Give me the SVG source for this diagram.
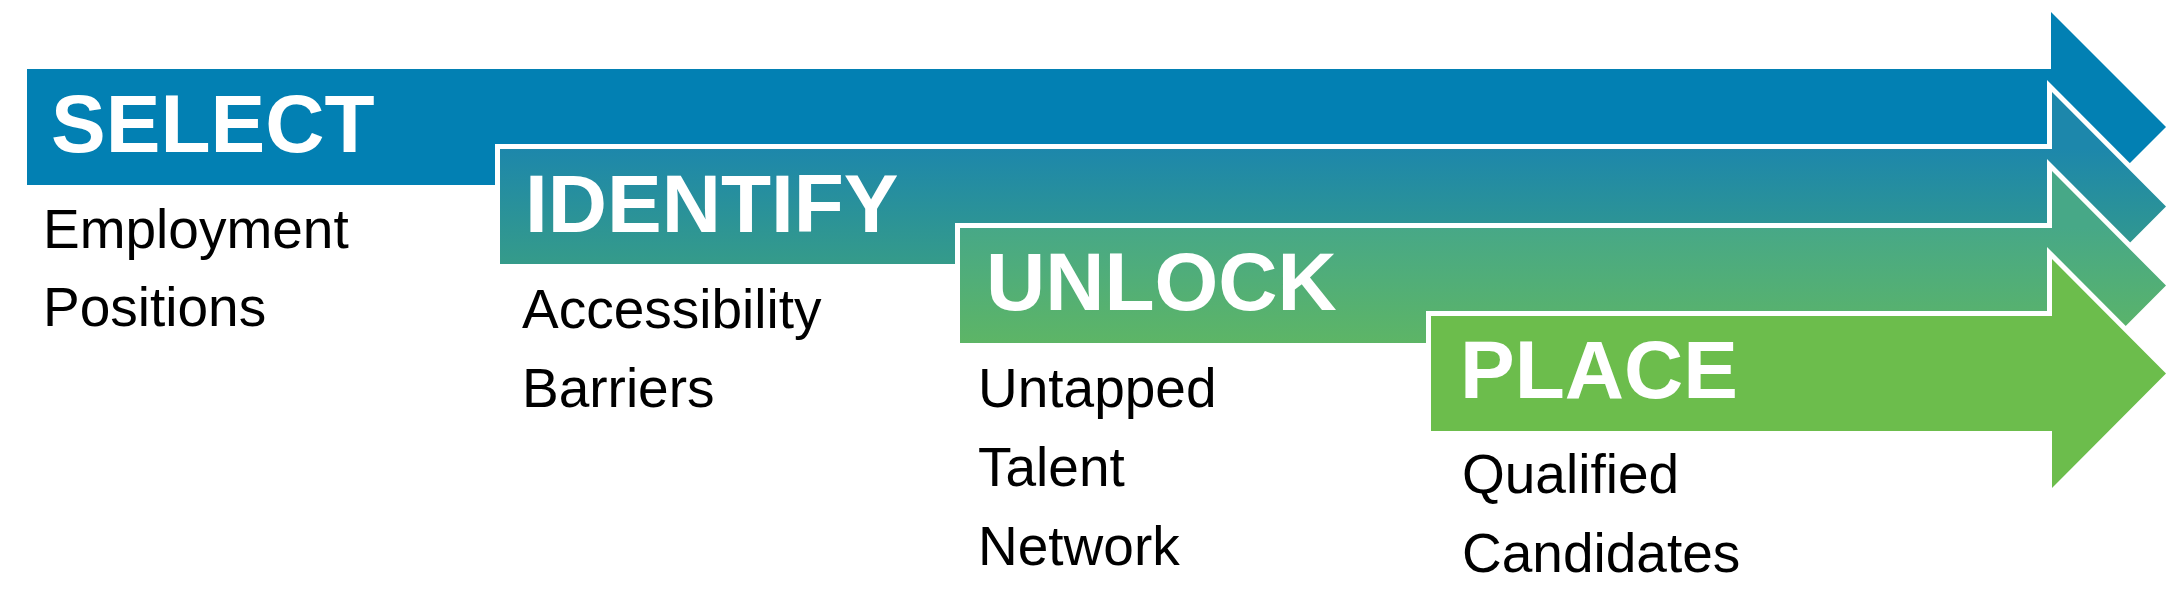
<svg xmlns="http://www.w3.org/2000/svg" width="2174" height="616" viewBox="0 0 2174 616">
<style>
.arrow{stroke:#ffffff;stroke-width:10;stroke-linejoin:miter;paint-order:stroke}
.title{font-family:"Liberation Sans",Arial,sans-serif;font-weight:bold;font-size:82px;fill:#ffffff}
.body{font-family:"Liberation Sans",Arial,sans-serif;font-size:55px;fill:#000000}
</style>
<defs>
<linearGradient id="g2" gradientUnits="userSpaceOnUse" x1="0" y1="149" x2="0" y2="264">
<stop offset="0" stop-color="#1d87ab"/>
<stop offset="1" stop-color="#359b8a"/>
</linearGradient>
<linearGradient id="g3" gradientUnits="userSpaceOnUse" x1="0" y1="228" x2="0" y2="343">
<stop offset="0" stop-color="#47a887"/>
<stop offset="1" stop-color="#5db566"/>
</linearGradient>
</defs>
<rect width="2174" height="616" fill="#ffffff"/>
<g id="select">
<polygon points="27,69 2051,69 2051,12 2166,127 2051,242 2051,185 27,185" fill="#0280b3"/>
<text class="title" x="51" y="152">SELECT</text>
<text class="body" x="43" y="248">Employment</text>
<text class="body" x="43" y="326">Positions</text>
</g>
<g id="identify">
<polygon class="arrow" points="500,149 2052,149 2052,92 2166,206.5 2052,321 2052,264 500,264" fill="url(#g2)"/>
<text class="title" x="525" y="232">IDENTIFY</text>
<text class="body" x="522" y="328">Accessibility</text>
<text class="body" x="522" y="407">Barriers</text>
</g>
<g id="unlock">
<polygon class="arrow" points="960,228 2052,228 2052,171 2166,285.5 2052,400 2052,343 960,343" fill="url(#g3)"/>
<text class="title" x="986" y="310">UNLOCK</text>
<text class="body" x="978" y="407">Untapped</text>
<text class="body" x="978" y="486">Talent</text>
<text class="body" x="978" y="565">Network</text>
</g>
<g id="place">
<polygon class="arrow" points="1431,316 2052,316 2052,259 2166,373.5 2052,488 2052,431 1431,431" fill="#6cbd4c"/>
<text class="title" x="1460" y="398">PLACE</text>
<text class="body" x="1462" y="493">Qualified</text>
<text class="body" x="1462" y="572">Candidates</text>
</g>
<g id="connectors"/>
</svg>
